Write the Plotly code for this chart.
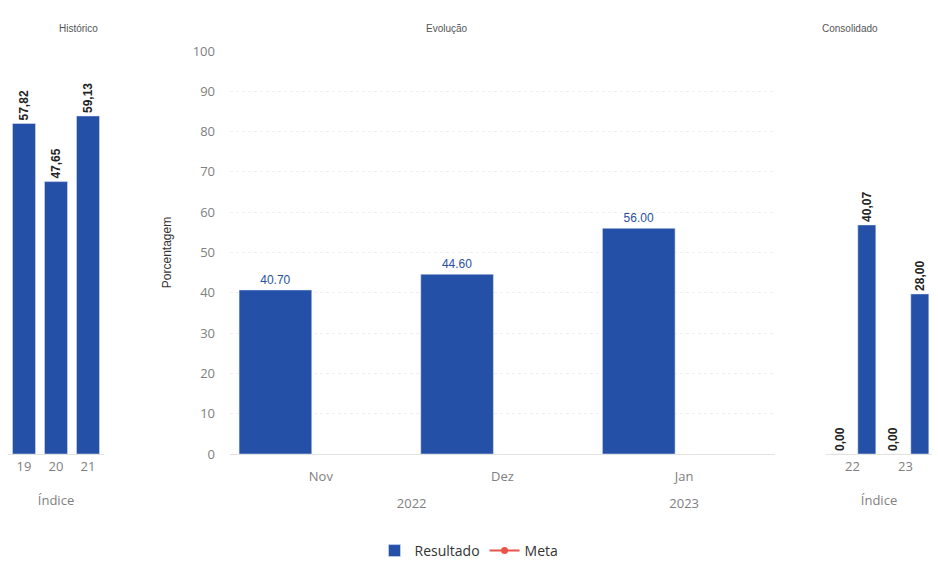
import plotly.graph_objects as go

# ---- data ----
hist_cats = ["19", "20", "21"]
hist_vals = [57.82, 47.65, 59.13]

evo_years = ["2022", "2022", "2023"]
evo_months = ["Nov", "Dez", "Jan"]
evo_vals = [40.70, 44.60, 56.00]

cons_cats = ["22", "23"]
cons_zero = [0.00, 0.00]
cons_vals = [40.07, 28.00]

y_ticks = [0, 10, 20, 30, 40, 50, 60, 70, 80, 90, 100]

BLUE = "#2450a8"
RED = "#e8534a"
GRAY = "#808080"
W, H = 938, 563
T, B = 51, 109

def br(v):
    return f"{v:.2f}".replace(".", ",")

side_text = dict(family="Liberation Sans", size=12, color="#222222", weight="bold")

fig = go.Figure()

# Histórico
fig.add_trace(go.Bar(
    x=hist_cats, y=hist_vals, xaxis="x", yaxis="y",
    marker_color=BLUE, width=0.72, showlegend=False,
    text=[br(v) for v in hist_vals], textposition="outside", textangle=-90,
    textfont=side_text, constraintext="none", cliponaxis=False,
))

# Evolução (year labels sit one line lower, as in the reference)
year_labels = ["<br>" + y for y in evo_years]
fig.add_trace(go.Bar(
    x=[year_labels, evo_months], y=evo_vals, xaxis="x2", yaxis="y2",
    marker_color=BLUE, width=0.4, offset=-0.45, name="Resultado",
    text=[f"{v:.2f}" for v in evo_vals], textposition="outside",
    textfont=dict(family="Liberation Sans", size=12, color="#2a4fa0"),
    constraintext="none", cliponaxis=False,
))
fig.add_trace(go.Scatter(
    x=[[None], [None]], y=[None], xaxis="x2", yaxis="y2", name="Meta",
    mode="lines+markers", line=dict(color=RED, width=2),
    marker=dict(color=RED, size=7, symbol="circle"),
))

# Consolidado
fig.add_trace(go.Bar(
    x=cons_cats, y=cons_zero, xaxis="x3", yaxis="y3",
    marker_color=BLUE, width=0.34, offset=-0.4, showlegend=False,
    text=[br(v) for v in cons_zero], textposition="outside", textangle=-90,
    textfont=side_text, constraintext="none", cliponaxis=False,
))
fig.add_trace(go.Bar(
    x=cons_cats, y=cons_vals, xaxis="x3", yaxis="y3",
    marker_color=BLUE, width=0.34, offset=0.1, showlegend=False,
    text=[br(v) for v in cons_vals], textposition="outside", textangle=-90,
    textfont=side_text, constraintext="none", cliponaxis=False,
))

def px(x):
    return x / W

axfont = dict(family="Open Sans", size=13, color=GRAY)
side_x = dict(type="category", showline=True, linecolor="#e3e3e3", linewidth=1,
              ticks="", tickfont=axfont, showgrid=False,
              title=dict(text="Índice", font=dict(family="Open Sans", size=13, color=GRAY), standoff=22))
side_y = dict(range=[0, 70.5], showgrid=False, showticklabels=False, zeroline=False, fixedrange=True)

plot_h = H - T - B

fig.update_layout(
    width=W, height=H,
    margin=dict(l=0, r=0, t=T, b=B, autoexpand=False),
    paper_bgcolor="white", plot_bgcolor="white",
    barmode="overlay",
    xaxis=dict(domain=[px(8), px(104)], anchor="y", **side_x),
    yaxis=dict(anchor="x", **side_y),
    xaxis2=dict(domain=[px(230), px(775)], anchor="y2", type="multicategory",
                showline=True, linecolor="#e3e3e3", tickfont=axfont, showgrid=False,
                showdividers=False, ticks="", ticklabelstandoff=10),
    yaxis2=dict(anchor="x2", range=[0, 100], tickvals=y_ticks,
                tickfont=dict(family="Open Sans", size=13, color=GRAY),
                ticklabelstandoff=14,
                showgrid=True, gridcolor="#eeeeee", griddash="dot", zeroline=False,
                title=dict(text="Porcentagem", font=dict(family="Liberation Sans", size=12, color="#333333"),
                           standoff=18)),
    xaxis3=dict(domain=[px(826), px(932)], anchor="y3", **side_x),
    yaxis3=dict(anchor="x3", **side_y),
    legend=dict(orientation="h", x=0.5, xanchor="center", y=-(535 - (H - B)) / plot_h, yanchor="top",
                font=dict(family="Open Sans", size=14, color="#333333")),
)

title_y = 1 + (T - 28) / plot_h
for txt, xpix in [("Histórico", 57), ("Evolução", 447), ("Consolidado", 880)]:
    fig.add_annotation(text=txt, x=px(xpix), y=title_y, xref="paper", yref="paper",
                       showarrow=False, yanchor="middle",
                       font=dict(family="Liberation Sans", size=10, color="#555555"))

fig.write_html("out.html", config={"displayModeBar": False},
               post_script="document.body.style.margin='0';")
